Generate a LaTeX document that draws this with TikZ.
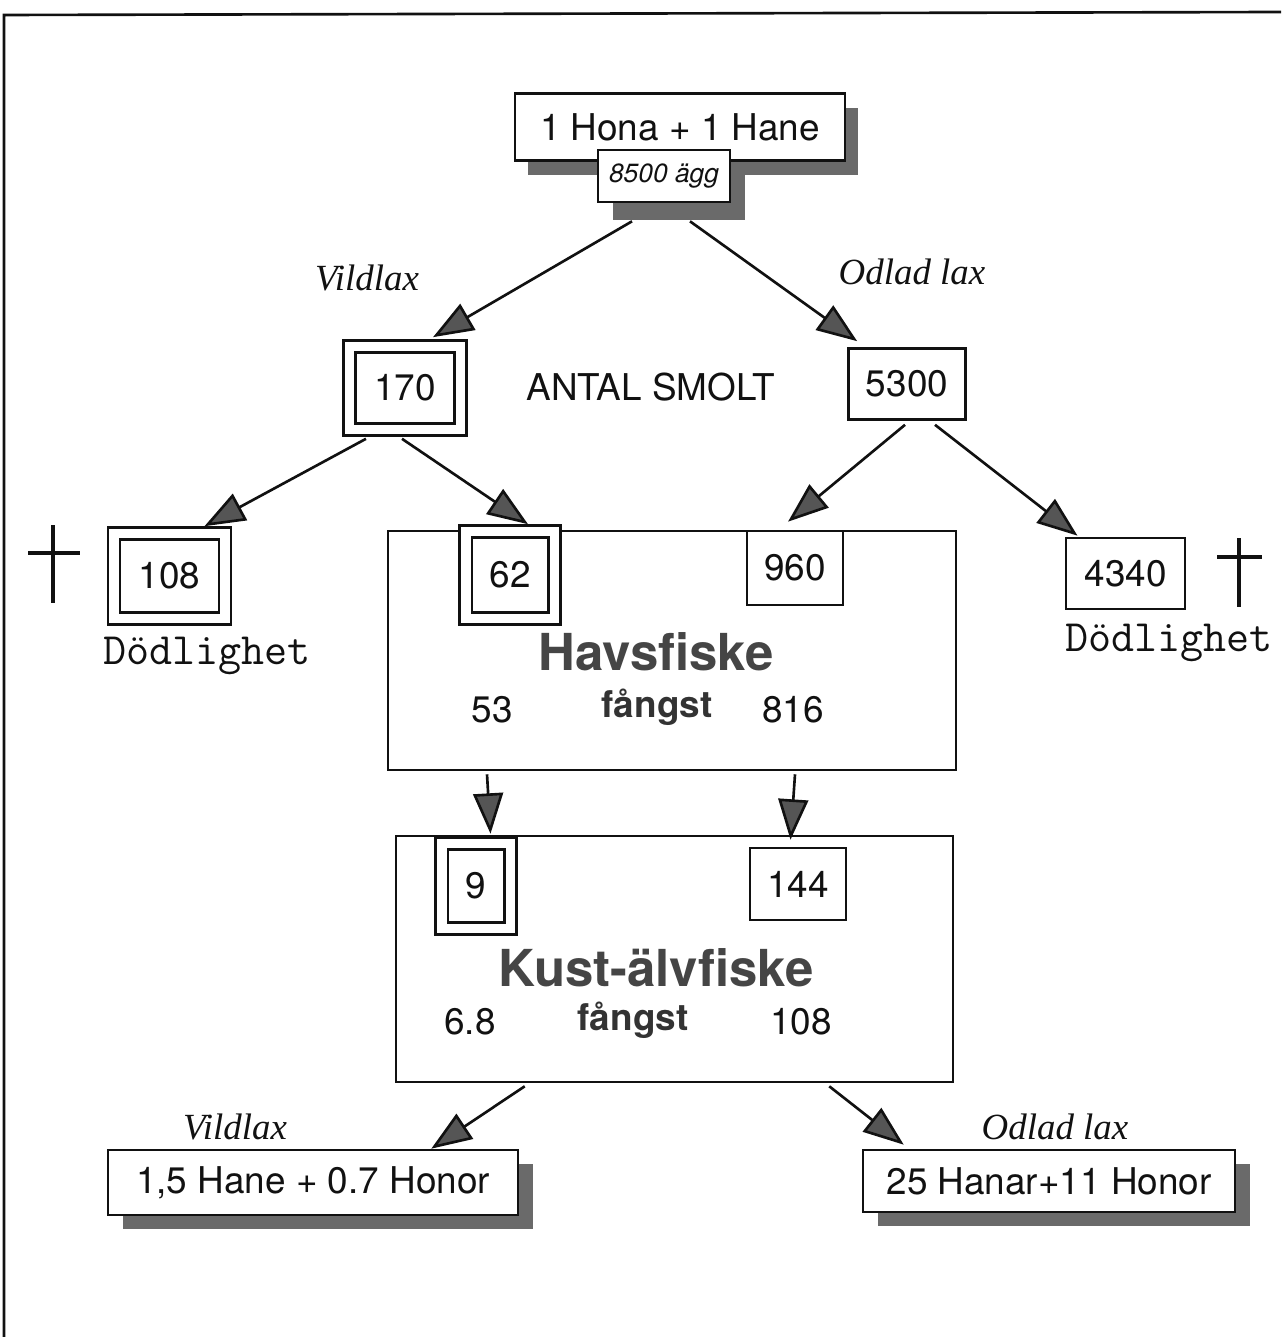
\documentclass[tikz,border=0pt]{standalone}
\usepackage{fontspec}
\setmainfont{TeX Gyre Heros}
\newfontfamily\timesit{Liberation Serif}
\usetikzlibrary{arrows.meta, calc, shadows}
\definecolor{ink}{HTML}{111111}
\definecolor{shade}{HTML}{6A6A6A}
\definecolor{headfill}{HTML}{555555}
\definecolor{titlegray}{HTML}{454545}

\begin{document}
\begin{tikzpicture}[
    x=0.02cm, y=-0.02cm,
    every node/.style={font=\fontsize{21}{25}\selectfont, text=ink, inner sep=1pt},
    box/.style={draw=ink, line width=1.5pt, fill=white, inner sep=0pt},
    dbox/.style={box, double=white, double distance=0.19cm},
    shad/.style args={#1/#2}{drop shadow={shadow xshift=#1cm, shadow yshift=-#2cm, fill=shade, opacity=1}},
    wild/.style={font=\timesit\itshape\fontsize{21}{25}\selectfont},
    mort/.style={font=\ttfamily\fontsize{25.5}{30}\selectfont},
    title/.style={font=\bfseries\fontsize{29}{34}\selectfont, text=titlegray},
    catch/.style={font=\bfseries\fontsize{21}{25}\selectfont, text=black!80},
    arr/.style={draw=ink, line width=1.5pt, -{Triangle[length=23pt, width=17pt, fill=headfill]}},
    crossline/.style={draw=ink, line width=2.3pt},
]
\useasboundingbox (0,0) rectangle (1281,1337);

% frame, only left and top edge survive
\draw[ink, line width=1.5pt] (4,1337) -- (4,15) -- (1281,12);

% the pair and the eggs
\node[box, shad={0.26/0.30}, minimum width=6.6cm, minimum height=1.34cm] (pair) at (680,127) {1 Hona + 1 Hane};
\node[box, shad={0.30/0.36}, minimum width=2.64cm, minimum height=1.04cm,
      font=\itshape\fontsize{15}{18}\selectfont] (egg) at (664,176) {8500 ägg};

\node[wild] (wildtop) at (367,278) {Vildlax};
\node[wild] (farmtop) at (912,272) {Odlad lax};

% smolt
\node[dbox, minimum width=2.23cm, minimum height=1.66cm] (w170) at (405,388) {170};
\node (smolt) at (651,387) {ANTAL SMOLT};
\node[box, minimum width=2.34cm, minimum height=1.42cm] (f5300) at (907,384) {5300};

% mortality, left and right
\node[dbox, minimum width=2.22cm, minimum height=1.70cm] (w108) at (169.5,576) {108};
\node[mort] (mortleft) at (207,656) {Dödlighet};
\draw[crossline] (53,525) -- (53,603) (28,553) -- (80,553);

\node[box, minimum width=2.38cm, minimum height=1.42cm] (f4340) at (1125.5,573.5) {4340};
\node[mort] (mortright) at (1169,643) {Dödlighet};
\draw[crossline] (1239,538) -- (1239,607) (1217,557) -- (1262,557);

% sea fishery
\node[box, minimum width=11.36cm, minimum height=4.78cm] (havs) at (672,650.5) {};
\node[dbox, minimum width=1.77cm, minimum height=1.74cm] (w62) at (510,575) {62};
\node[box, minimum width=1.92cm, minimum height=1.48cm] (f960) at (795,568) {960};
\node[title] (havstitle) at (656,652) {Havsfiske};
\node[catch] (havscatch) at (657,707) {fångst};
\node (havswild) at (492,710) {53};
\node (havsfarm) at (793,710) {816};

% coast and river fishery
\node[box, minimum width=11.14cm, minimum height=4.92cm] (kust) at (674.5,959) {};
\node[dbox, minimum width=1.37cm, minimum height=1.70cm] (w9) at (476,886) {9};
\node[box, minimum width=1.92cm, minimum height=1.44cm] (f144) at (798,884) {144};
\node[title] (kusttitle) at (656,968) {Kust-älvfiske};
\node[catch] (kustcatch) at (633,1020) {fångst};
\node (kustwild) at (470,1022) {6.8};
\node (kustfarm) at (801,1022) {108};

% spawners that come back
\node[wild] (wildbot) at (235,1127) {Vildlax};
\node[wild] (farmbot) at (1055,1127) {Odlad lax};
\node[box, shad={0.30/0.28}, minimum width=8.2cm, minimum height=1.3cm] (bl) at (313,1182.5) {1,5 Hane + 0.7 Honor};
\node[box, shad={0.30/0.28}, minimum width=7.44cm, minimum height=1.24cm] (br) at (1049,1181) {25 Hanar+11 Honor};

% arrows
\draw[arr] ($(egg.south)+(-32,18)$) -- ($(w170.north)+(28,-8)$);
\draw[arr] ($(egg.south)+(26,18)$) -- ($(f5300.north west)+(10,-6)$);
\draw[arr] ($(w170.south west)+(18,8)$) -- ($(w108.north)+(35,-6)$);
\draw[arr] ($(w170.south)+(-3,8)$) -- ($(w62.north)+(18,-6)$);
\draw[arr] ($(f5300.south)+(-2,4)$) -- ($(f960.north)+(-7,-8)$);
\draw[arr] ($(f5300.south)+(28,4)$) -- ($(f4340.north)+(-48,-1)$);
\draw[arr] ($(havs.south)+(-185,3)$) -- ($(kust.north)+(-184,-1)$);
\draw[arr] ($(havs.south)+(123,3)$) -- ($(kust.north)+(116,5)$);
\draw[arr] ($(kust.south west)+(130,3)$) -- ($(bl.north east)+(-88,0)$);
\draw[arr] ($(kust.south east)+(-125,3)$) -- ($(br.north west)+(42,-4)$);
\end{tikzpicture}
\end{document}
